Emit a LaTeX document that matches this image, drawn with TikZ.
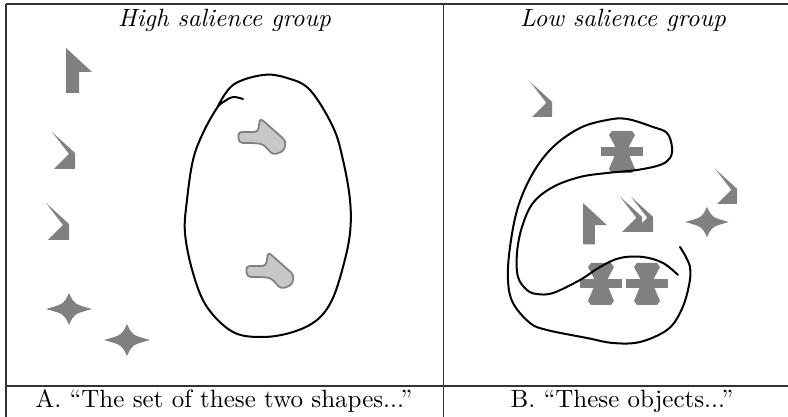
\documentclass[tikz,border=0pt]{standalone}
\usepackage{tikz}
\usetikzlibrary{positioning}

\tikzset{
    shapefill/.style={fill=black!50, draw=none},
    blobfill/.style={fill=black!22, draw=black!50, line width=0.7pt, rounded corners=1.5pt},
    inkline/.style={black, line width=0.8pt, line cap=round, line join=round},
    tablerule/.style={black!80, line width=0.5pt},
    pics/pointer/.style={code={
        \fill[shapefill] (0,0) -- (26,24) -- (13,24) -- (13,45) -- (0,45) -- cycle;
    }},
    pics/chevron/.style={code={
        \fill[shapefill] (-23,-37) -- (0,-16) -- (0,0) -- (-21,0) -- (-6,-15) -- cycle;
    }},
    pics/sparkle/.style={code={
        \fill[shapefill] (23,0) .. controls (5,5) .. (0,16) .. controls (-5,5) .. (-23,0)
            .. controls (-5,-5) .. (0,-16) .. controls (5,-5) .. (23,0) -- cycle;
    }},
    pics/hourglass/.style={code={
        \fill[shapefill] (-10,-21) -- (10,-21) -- (13,-17) -- (5,-2) -- (13,17) -- (10,21)
            -- (-10,21) -- (-13,17) -- (-5,-2) -- (-13,-17) -- cycle;
        \fill[shapefill] (-21,-5) rectangle (21,4);
    }},
    pics/blob/.style={code={
        \filldraw[blobfill] (-22,14) -- (-2,14) -- (0,0) -- (26,23) -- (24,33) -- (13,37)
            -- (3,26) -- (-7,25) -- (-21,25) -- cycle;
    }},
}

\begin{document}
\begin{tikzpicture}[x=0.4pt, y=-0.4pt]
    \useasboundingbox (0,0) rectangle (788,417);

    % Table frame
    \coordinate (tl) at (6,4);
    \coordinate (tr) at (788,4);
    \coordinate (ml) at (6,386);
    \coordinate (mr) at (788,386);
    \coordinate (bl) at (6,417);
    \coordinate (ct) at (443.5,4);
    \coordinate (cb) at (443.5,417);
    \draw[tablerule] (tl) -- (tr);
    \draw[tablerule] (ml) -- (mr);
    \draw[tablerule] (tl) -- (bl);
    \draw[tablerule] (ct) -- (cb);

    % Headings and captions
    \node (hightitle) at (224.5,20) {\textit{High salience group}};
    \node (lowtitle) at (623,20) {\textit{Low salience group}};
    \node (captiona) at (224,401) {A. “The set of these two shapes...”};
    \node (captionb) at (622,401) {B. “These objects...”};

    % High salience: distractors on the left
    \pic at (66,48) {pointer};
    \foreach \x/\y in {75/169, 69/240} {
        \pic at (\x,\y) {chevron};
    }
    \foreach \x/\y in {69/309, 127/340} {
        \pic at (\x,\y) {sparkle};
    }

    % High salience: the two grouped blobs
    \foreach \x/\y in {260/118, 268/252} {
        \pic at (\x,\y) {blob};
    }
    \draw[inkline] plot[smooth, tension=0.6] coordinates {
        (217,108) (233,85) (263,75) (287,78) (310,90) (333,127) (343,160) (350,200)
        (350,233) (343,267) (332,300) (317,320) (293,332) (263,337) (233,332) (207,307)
        (193,273) (185,233) (187,200) (193,160) (203,133) (217,108) (225,101) (233,97) (243,99)};

    % Low salience: scattered shapes
    \pic[scale=0.92] at (583,203) {pointer};
    \foreach \x/\y in {552/117, 737/204, 642/232, 653/232} {
        \pic[scale=0.95] at (\x,\y) {chevron};
    }
    \pic[scale=0.95] at (707,222) {sparkle};
    \foreach \x/\y in {622/152, 601/284, 647/284} {
        \pic at (\x,\y) {hourglass};
    }

    % Low salience: the drawn loop
    \draw[inkline] plot[smooth, tension=0.6] coordinates {
        (680,247) (690,267) (688,290) (680,313) (667,330) (640,342) (613,343) (587,338)
        (547,330) (530,323) (513,303) (508,280) (510,247) (518,207) (533,173) (553,147)
        (580,128) (607,120) (627,119) (653,127) (667,133) (672,147) (670,158) (660,165)
        (637,170) (607,173) (580,177) (553,187) (533,203) (522,227) (517,253) (518,277)
        (527,290) (537,294) (553,293) (580,280) (600,267) (620,258) (643,257) (663,263) (678,275)};
\end{tikzpicture}
\end{document}
